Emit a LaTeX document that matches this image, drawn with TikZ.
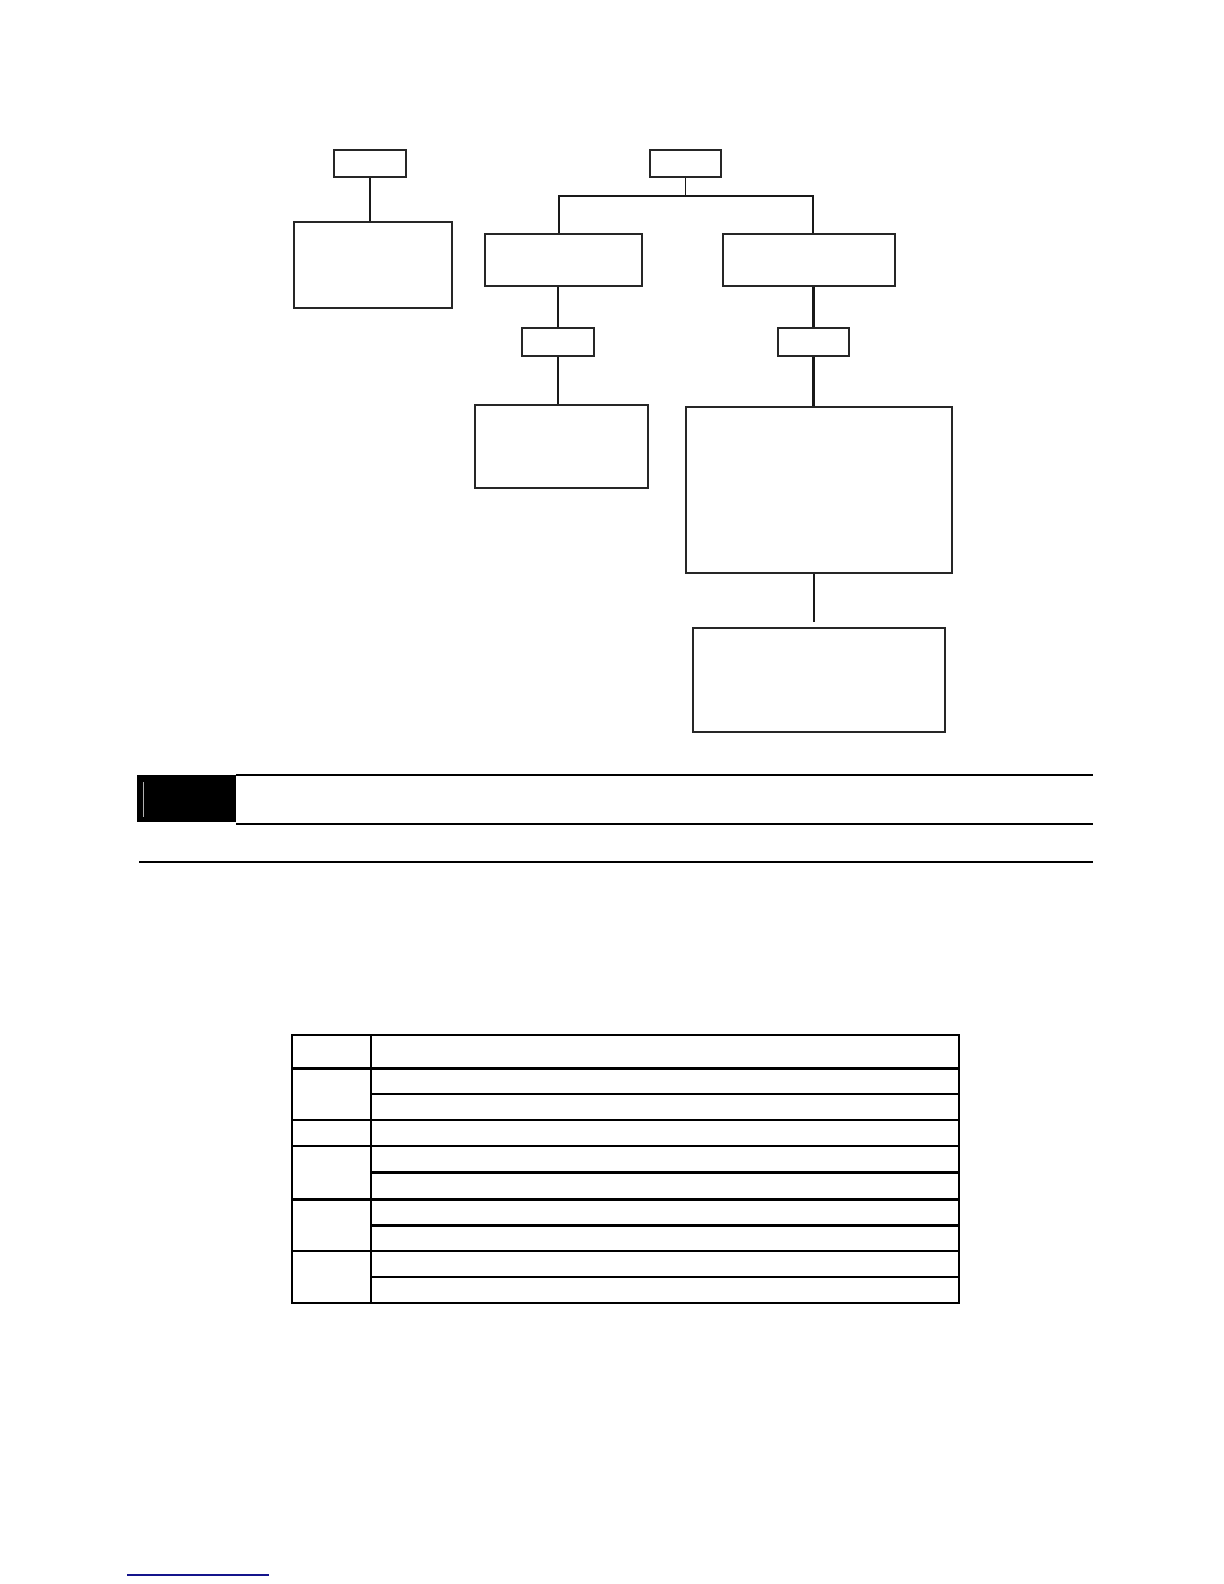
\documentclass[tikz,border=0pt]{standalone}
\begin{document}
\begin{tikzpicture}[x=0.5pt,y=-0.5pt,
  box/.style={draw=black!85,line width=1pt,inner sep=0pt,fill=white},
  conn/.style={draw=black!90,line width=1.1pt},
  thinrule/.style={line width=0.75pt},
  thickrule/.style={line width=1.5pt}]
\useasboundingbox (0,0) rectangle (1224,1584);
% boxes
\node[box,minimum width=36pt,minimum height=13.5pt] (A) at (370,163) {};
\node[box,minimum width=79pt,minimum height=43pt] (B) at (373,265) {};
\node[box,minimum width=35.5pt,minimum height=13.5pt] (C) at (685.5,163) {};
\node[box,minimum width=78.5pt,minimum height=26pt] (D) at (563.5,260) {};
\node[box,minimum width=86pt,minimum height=26pt] (E) at (809,259.5) {};
\node[box,minimum width=36pt,minimum height=14pt] (F) at (558,342) {};
\node[box,minimum width=35.5pt,minimum height=14pt] (G) at (813.5,342) {};
\node[box,minimum width=86.5pt,minimum height=41.5pt] (H) at (561.5,446.5) {};
\node[box,minimum width=133pt,minimum height=83pt] (I) at (819,490) {};
\node[box,minimum width=126pt,minimum height=52pt] (J) at (819,680) {};
% connectors
\coordinate (jl) at (559,196);
\coordinate (jr) at (813,196);
\coordinate (iend) at (814,622);
\draw[conn] (A.south) -- (A.south |- B.north);
\draw[conn,line width=0.7pt] (C.south) -- (C.south |- jl);
\draw[conn] (jl |- D.north) -- (jl) -- (jr) -- (jr |- E.north);
\draw[conn] (F.north |- D.south) -- (F.north);
\draw[conn] (F.south) -- (F.south |- H.north);
\draw[conn] (G.north |- E.south) -- (G.north);
\draw[conn] (G.south) -- (G.south |- I.north);
\draw[conn] (iend |- I.south) -- (iend);
% header bar
\fill[black] (137,775) rectangle (236,822);
\draw[white!70!black,line width=0.4pt] (143,782) -- (143,817);
\draw[line width=1.3pt] (236,775) -- (1093,775);
\draw[line width=1.3pt] (236,824) -- (1093,824);
\draw[line width=0.7pt] (139,862) -- (1093,862);
% table
\draw[thinrule] (292,1035) rectangle (959,1303);
\draw[thinrule] (371,1035) -- (371,1303);
\draw[thickrule] (292,1068) -- (959,1068);
\draw[thinrule] (371,1094) -- (959,1094);
\draw[thinrule] (292,1120) -- (959,1120);
\draw[thinrule] (292,1146) -- (959,1146);
\draw[thickrule] (371,1172.5) -- (959,1172.5);
\draw[thickrule] (292,1199) -- (959,1199);
\draw[thickrule] (371,1225) -- (959,1225);
\draw[thinrule] (292,1251) -- (959,1251);
\draw[thinrule] (371,1277) -- (959,1277);
% footer link line
\draw[color={rgb,255:red,20;green,20;blue,140},line width=0.8pt] (127,1575) -- (269,1575);
\end{tikzpicture}
\end{document}
